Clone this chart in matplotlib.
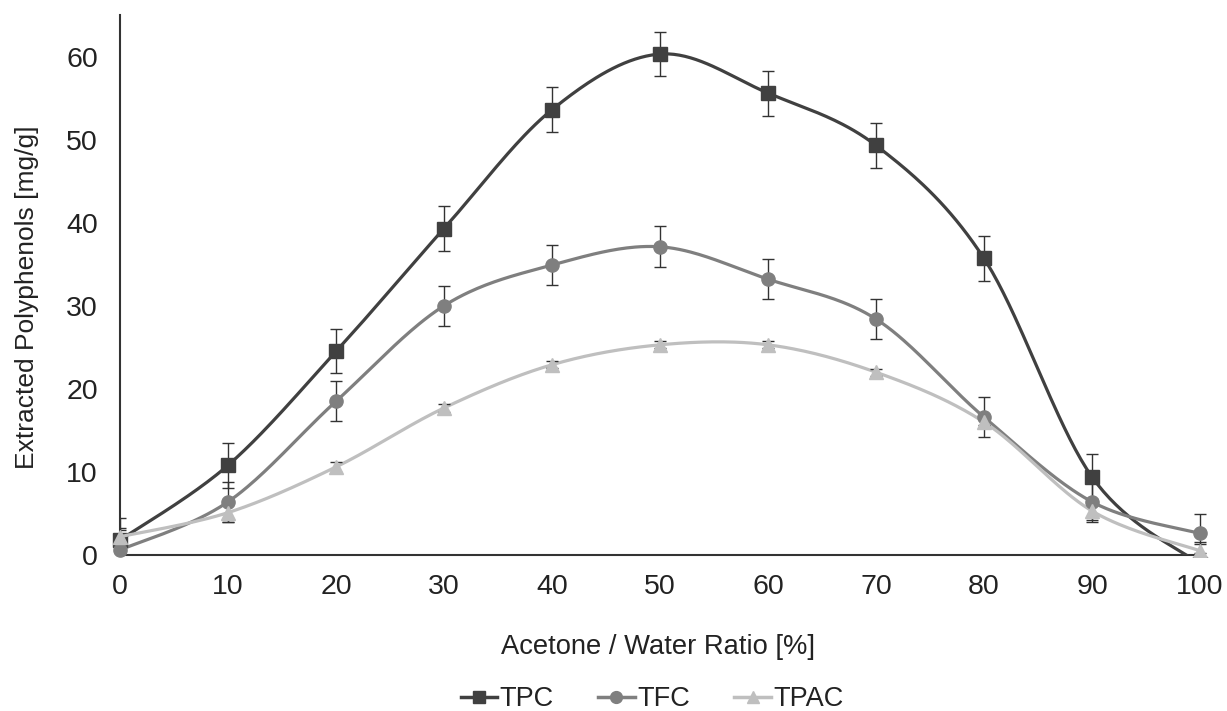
import numpy as np
import matplotlib
matplotlib.use("Agg")
import matplotlib.pyplot as plt
from matplotlib.lines import Line2D
from matplotlib.patches import Rectangle

# ---- data ----
ratio = [0, 10, 20, 30, 40, 50, 60, 70, 80, 90, 100]
tpc = [1.8, 10.8, 24.5, 39.3, 53.6, 60.3, 55.6, 49.3, 35.7, 9.4, -1.1]
tpc_err = [2.7, 2.7, 2.65, 2.7, 2.7, 2.7, 2.7, 2.75, 2.7, 2.7, 2.7]
tfc = [0.6, 6.4, 18.5, 30.0, 34.9, 37.1, 33.2, 28.4, 16.6, 6.4, 2.6]
tfc_err = [2.4, 2.4, 2.4, 2.4, 2.4, 2.45, 2.4, 2.4, 2.4, 2.4, 2.3]
tpac = [2.2, 5.1, 10.6, 17.7, 22.9, 25.3, 25.3, 22.0, 16.0, 5.3, 0.5]
tpac_err = [1.1, 1.1, 0.6, 0.5, 0.4, 0.4, 0.4, 0.4, 0.4, 1.1, 0.8]
series_names = ["TPC", "TFC", "TPAC"]
x_label = "Acetone / Water Ratio [%]"
y_label = "Extracted Polyphenols [mg/g]"

colors = ["#404040", "#7f7f7f", "#bfbfbf"]
markers = ["s", "o", "^"]

plt.rcParams['font.family'] = ['Liberation Sans', 'DejaVu Sans']

W, H = 1227, 711
fig = plt.figure(figsize=(W / 100, H / 100), dpi=100)
ax = fig.add_axes([120 / W, 1 - 555 / H, 1080 / W, 540 / H])


def smooth(xs, ys, n=40):
    xs = np.asarray(xs, float)
    ys = np.asarray(ys, float)
    P = np.column_stack([xs, ys])
    Pe = np.vstack([P[0], P, P[-1]])
    out = []
    t = np.linspace(0, 1, n)[:, None]
    for i in range(len(P) - 1):
        p0, p1, p2, p3 = Pe[i], Pe[i + 1], Pe[i + 2], Pe[i + 3]
        c1 = p1 + (p2 - p0) / 6.0
        c2 = p2 - (p3 - p1) / 6.0
        seg = ((1 - t) ** 3) * p1 + 3 * ((1 - t) ** 2) * t * c1 + 3 * (1 - t) * t ** 2 * c2 + t ** 3 * p2
        out.append(seg if i == 0 else seg[1:])
    out = np.vstack(out)
    return out[:, 0], out[:, 1]


# clip regions (data coordinates)
err_clip = Rectangle((0, 0), 110, 80, transform=ax.transData, visible=False)
mk_clip = Rectangle((-10, -0.3), 120, 80, transform=ax.transData, visible=False)
ax.add_patch(err_clip)
ax.add_patch(mk_clip)

data = [(tpc, tpc_err), (tfc, tfc_err), (tpac, tpac_err)]
for idx in [2, 1, 0]:
    vals, errs = data[idx]
    sx, sy = smooth(ratio, vals)
    ax.plot(sx, sy, color=colors[idx], lw=2.3, solid_capstyle='round', zorder=2 + idx)
    eb = ax.errorbar(ratio, vals, yerr=errs, fmt='none', ecolor='#333333', elinewidth=1.0,
                     capsize=4, capthick=1.0, zorder=2 + idx)
    for art in eb.get_children():
        art.set_clip_path(err_clip)
    (mk,) = ax.plot(ratio, vals, linestyle='none', marker=markers[idx], color=colors[idx],
                    markersize=9.5 if idx != 2 else 10, zorder=3 + idx)
    mk.set_clip_path(mk_clip)

ax.set_xlim(0, 100)
ax.set_ylim(0, 65)
ax.set_xticks(ratio)
ax.set_yticks([0, 10, 20, 30, 40, 50, 60])
ax.tick_params(axis='both', length=0, labelsize=20.5, colors='#222222')
ax.tick_params(axis='x', pad=14)
ax.tick_params(axis='y', pad=16)
for s in ['top', 'right']:
    ax.spines[s].set_visible(False)
for s in ['left', 'bottom']:
    ax.spines[s].set_color('#333333')
    ax.spines[s].set_linewidth(1.5)
    ax.spines[s].set_zorder(1.5)

fig.text(658 / W, 1 - 647 / H, x_label, ha='center', va='center', fontsize=19.7, color='#222222')
fig.text(27 / W, 1 - 297 / H, y_label, ha='center', va='center', rotation=90, fontsize=19, color='#222222')

handles = [Line2D([], [], color=colors[i], lw=2.5, marker=markers[i], markersize=8.5) for i in range(3)]
fig.legend(handles, series_names, loc='center', bbox_to_anchor=(652 / W, 1 - 699 / H), ncol=3,
           frameon=False, fontsize=19.5, handlelength=1.35, handletextpad=0.08, columnspacing=1.65,
           labelcolor='#222222', borderpad=0.0)

fig.savefig("out.png", dpi=100)
